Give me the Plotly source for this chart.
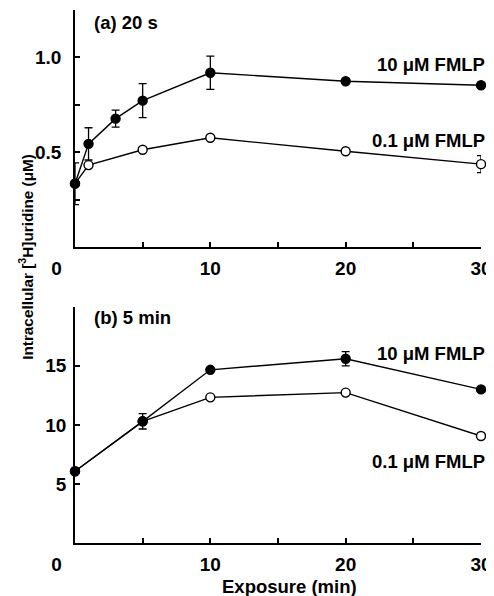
import plotly.graph_objects as go
from plotly.subplots import make_subplots

# Panel (a): 20 s
times_a_10 = [0, 1, 3, 5, 10, 20, 30]
fmlp10_a = [0.334, 0.544, 0.677, 0.772, 0.919, 0.874, 0.853]
fmlp10_a_err = [0.11, 0.085, 0.045, 0.09, 0.088, None, None]
times_a_01 = [0, 1, 5, 10, 20, 30]
fmlp01_a = [0.334, 0.432, 0.513, 0.576, 0.505, 0.437]
fmlp01_a_err = [None, None, None, None, None, 0.045]

# Panel (b): 5 min
times_b = [0, 5, 10, 20, 30]
fmlp10_b = [6.07, 10.3, 14.66, 15.6, 13.0]
fmlp10_b_err = [None, 0.65, None, 0.6, None]
fmlp01_b = [6.07, 10.3, 12.33, 12.73, 9.06]

x_tickvals = [0, 5, 10, 15, 20, 25, 30]
x_ticktext = ["0" + "\u00a0" * 7, "", "10", "", "20", "", "30"]
ya_tickvals = [0.25, 0.5, 0.75, 1.0]
ya_ticktext = ["", "0.5", "", "1.0"]
yb_tickvals = [5, 10, 15]
yb_ticktext = ["5", "10", "15"]

FONT = "Liberation Sans, Arial, Helvetica, sans-serif"

fig = make_subplots(rows=2, cols=1, vertical_spacing=0.112)

def add(x, y, err, filled, row):
    fig.add_trace(go.Scatter(
        x=x, y=y, mode="lines+markers",
        line=dict(color="black", width=1.4),
        marker=dict(size=9, symbol="circle",
                    color="black" if filled else "white",
                    line=dict(color="black", width=1.4)),
        error_y=dict(type="data", array=err, visible=True,
                     color="black", thickness=1.3, width=4),
        cliponaxis=False, showlegend=False), row=row, col=1)

add(times_a_01, fmlp01_a, fmlp01_a_err, False, 1)
add(times_a_10, fmlp10_a, fmlp10_a_err, True, 1)
add(times_b, fmlp01_b, [None]*5, False, 2)
add(times_b, fmlp10_b, fmlp10_b_err, True, 2)

axis_common = dict(showline=True, linecolor="black", linewidth=1.8,
                   ticks="inside", ticklen=5, tickwidth=1.5, tickcolor="black",
                   showgrid=False, zeroline=False, automargin=False,
                   tickfont=dict(family=FONT, size=19, color="black", weight="bold"))

for r in (1, 2):
    fig.update_xaxes(range=[0, 30], tickmode="array", tickvals=x_tickvals,
                     ticktext=x_ticktext, ticklabelstandoff=3, **axis_common, row=r, col=1)
fig.update_yaxes(range=[0, 1.25], tickmode="array", tickvals=ya_tickvals,
                 ticktext=ya_ticktext, ticklabelstandoff=8, **axis_common, row=1, col=1)
fig.update_yaxes(range=[0, 20], tickmode="array", tickvals=yb_tickvals,
                 ticktext=yb_ticktext, ticklabelstandoff=3, **axis_common, row=2, col=1)

fig.update_layout(
    yaxis=dict(domain=[0.5553, 1.0]),
    yaxis2=dict(domain=[0.0, 0.4433]),
)

lab = dict(family=FONT, size=18.5, color="black", weight="bold")
anns = [
    dict(text="(a) 20 s", x=1.26, y=1.183, xref="x", yref="y", xanchor="left", yanchor="middle"),
    dict(text="10 \u03bcM FMLP", x=30, y=0.96, xref="x", yref="y", xanchor="right", yanchor="middle", xshift=6),
    dict(text="0.1 \u03bcM FMLP", x=30, y=0.56, xref="x", yref="y", xanchor="right", yanchor="middle", xshift=6),
    dict(text="(b) 5 min", x=1.26, y=19.1, xref="x2", yref="y2", xanchor="left", yanchor="middle"),
    dict(text="10 \u03bcM FMLP", x=30, y=16.0, xref="x2", yref="y2", xanchor="right", yanchor="middle", xshift=6),
    dict(text="0.1 \u03bcM FMLP", x=30, y=6.9, xref="x2", yref="y2", xanchor="right", yanchor="middle", xshift=6),
    dict(text="Exposure (min)", x=0.528, y=0, xref="paper", yref="paper",
         xanchor="center", yanchor="middle", yshift=-43, font=dict(family=FONT, size=18.5, color="black", weight="bold")),
    dict(text="Intracellular [<sup>3</sup>H]uridine (\u03bcM)", x=0, y=0.537,
         xref="paper", yref="paper", xanchor="center", yanchor="middle",
         xshift=-49, textangle=-90, font=dict(family=FONT, size=15.3, color="black", weight="bold")),
]
for a in anns:
    a.setdefault("font", lab)
    a.update(showarrow=False)
fig.update_layout(annotations=anns)

# The page body adds an 8 px offset, so the figure is 8 px smaller on each side.
fig.update_layout(
    width=486, height=588,
    margin=dict(l=67, r=13, t=2, b=53),
    paper_bgcolor="white", plot_bgcolor="white",
    font=dict(family=FONT, color="black"),
)

fig.write_html("out.html")
